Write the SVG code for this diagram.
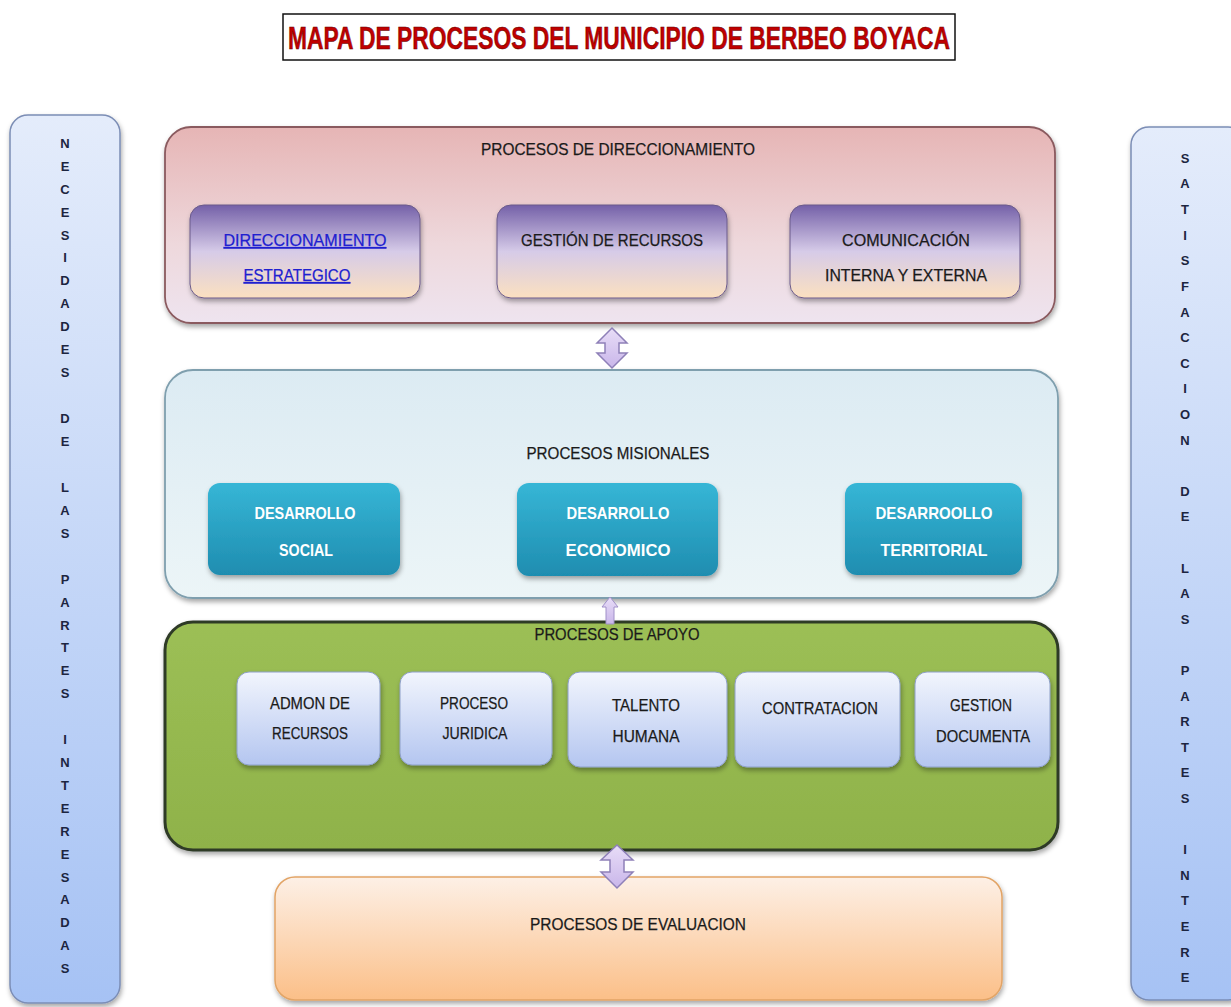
<svg xmlns="http://www.w3.org/2000/svg" width="1231" height="1007" viewBox="0 0 1231 1007">
<defs>
<style>
text{font-family:"Liberation Sans",Arial,sans-serif;}
.t{font-size:17px;fill:#1a1a1a;text-anchor:middle;stroke:#1a1a1a;stroke-width:0.25;}
.w{font-size:17px;fill:#ffffff;text-anchor:middle;font-weight:bold;}
.v{font-size:13px;fill:#1c2540;text-anchor:middle;font-weight:bold;}
</style>
<linearGradient id="gSide" x1="0" y1="0" x2="0" y2="1"><stop offset="0" stop-color="#e4ecfb"/><stop offset="1" stop-color="#a6c2f4"/></linearGradient>
<linearGradient id="gDir" x1="0" y1="0" x2="0" y2="1"><stop offset="0" stop-color="#e6b5b5"/><stop offset="0.6" stop-color="#eed8dc"/><stop offset="1" stop-color="#eee4ef"/></linearGradient>
<linearGradient id="gPur" x1="0" y1="0" x2="0" y2="1"><stop offset="0" stop-color="#7460a8"/><stop offset="0.5" stop-color="#d6cbe8"/><stop offset="1" stop-color="#fbe0c0"/></linearGradient>
<linearGradient id="gMis" x1="0" y1="0" x2="0" y2="1"><stop offset="0" stop-color="#dcebf3"/><stop offset="1" stop-color="#ecf5f7"/></linearGradient>
<linearGradient id="gTeal" x1="0" y1="0" x2="0" y2="1"><stop offset="0" stop-color="#36b6d6"/><stop offset="1" stop-color="#1f8db0"/></linearGradient>
<linearGradient id="gGreen" x1="0" y1="0" x2="0" y2="1"><stop offset="0" stop-color="#9cbf55"/><stop offset="1" stop-color="#8fb24a"/></linearGradient>
<linearGradient id="gBlue" x1="0" y1="0" x2="0" y2="1"><stop offset="0" stop-color="#f2f5fd"/><stop offset="1" stop-color="#b4c6f0"/></linearGradient>
<linearGradient id="gOr" x1="0" y1="0" x2="0" y2="1"><stop offset="0" stop-color="#fdf0e6"/><stop offset="1" stop-color="#fbbf88"/></linearGradient>
<linearGradient id="gArr" x1="0" y1="0" x2="0" y2="1"><stop offset="0" stop-color="#e8ddf7"/><stop offset="1" stop-color="#c9b6ea"/></linearGradient>
<filter id="sh" x="-10%" y="-10%" width="120%" height="130%"><feDropShadow dx="1" dy="3" stdDeviation="2.5" flood-color="#000" flood-opacity="0.35"/></filter>
</defs>
<rect width="1231" height="1007" fill="#ffffff"/>

<g id="title">
<rect x="283" y="14" width="672" height="46" fill="#ffffff" stroke="#111" stroke-width="1.5"/>
<text x="619" y="49" font-size="32" font-weight="bold" fill="#c00000" text-anchor="middle" textLength="662" lengthAdjust="spacingAndGlyphs" stroke="#5a0000" stroke-width="0.5">MAPA DE PROCESOS DEL MUNICIPIO DE BERBEO BOYACA</text>
</g>

<g id="necesidades">
<rect x="10" y="115" width="110" height="888" rx="18" fill="url(#gSide)" stroke="#7b8db5" stroke-width="1.5" filter="url(#sh)"/>
<text class="v" x="65" y="148">N</text>
<text class="v" x="65" y="171">E</text>
<text class="v" x="65" y="194">C</text>
<text class="v" x="65" y="217">E</text>
<text class="v" x="65" y="240">S</text>
<text class="v" x="65" y="262">I</text>
<text class="v" x="65" y="285">D</text>
<text class="v" x="65" y="308">A</text>
<text class="v" x="65" y="331">D</text>
<text class="v" x="65" y="354">E</text>
<text class="v" x="65" y="377">S</text>
<text class="v" x="65" y="423">D</text>
<text class="v" x="65" y="446">E</text>
<text class="v" x="65" y="492">L</text>
<text class="v" x="65" y="515">A</text>
<text class="v" x="65" y="538">S</text>
<text class="v" x="65" y="584">P</text>
<text class="v" x="65" y="607">A</text>
<text class="v" x="65" y="630">R</text>
<text class="v" x="65" y="652">T</text>
<text class="v" x="65" y="675">E</text>
<text class="v" x="65" y="698">S</text>
<text class="v" x="65" y="744">I</text>
<text class="v" x="65" y="767">N</text>
<text class="v" x="65" y="790">T</text>
<text class="v" x="65" y="813">E</text>
<text class="v" x="65" y="836">R</text>
<text class="v" x="65" y="859">E</text>
<text class="v" x="65" y="882">S</text>
<text class="v" x="65" y="904">A</text>
<text class="v" x="65" y="927">D</text>
<text class="v" x="65" y="950">A</text>
<text class="v" x="65" y="973">S</text>
</g>

<g id="satisfaccion">
<rect x="1131" y="127" width="115" height="873" rx="18" fill="url(#gSide)" stroke="#7b8db5" stroke-width="1.5" filter="url(#sh)"/>
<text class="v" x="1185" y="163">S</text>
<text class="v" x="1185" y="188">A</text>
<text class="v" x="1185" y="214">T</text>
<text class="v" x="1185" y="240">I</text>
<text class="v" x="1185" y="265">S</text>
<text class="v" x="1185" y="291">F</text>
<text class="v" x="1185" y="317">A</text>
<text class="v" x="1185" y="342">C</text>
<text class="v" x="1185" y="368">C</text>
<text class="v" x="1185" y="393">I</text>
<text class="v" x="1185" y="419">O</text>
<text class="v" x="1185" y="445">N</text>
<text class="v" x="1185" y="496">D</text>
<text class="v" x="1185" y="521">E</text>
<text class="v" x="1185" y="573">L</text>
<text class="v" x="1185" y="598">A</text>
<text class="v" x="1185" y="624">S</text>
<text class="v" x="1185" y="675">P</text>
<text class="v" x="1185" y="701">A</text>
<text class="v" x="1185" y="726">R</text>
<text class="v" x="1185" y="752">T</text>
<text class="v" x="1185" y="777">E</text>
<text class="v" x="1185" y="803">S</text>
<text class="v" x="1185" y="854">I</text>
<text class="v" x="1185" y="880">N</text>
<text class="v" x="1185" y="905">T</text>
<text class="v" x="1185" y="931">E</text>
<text class="v" x="1185" y="957">R</text>
<text class="v" x="1185" y="982">E</text>
</g>

<g id="direccionamiento">
<rect x="165" y="127" width="890" height="196" rx="26" fill="url(#gDir)" stroke="#8a5a5e" stroke-width="1.8" filter="url(#sh)"/>
<text class="t" x="618" y="155" textLength="274" lengthAdjust="spacingAndGlyphs">PROCESOS DE DIRECCIONAMIENTO</text>
</g>
<g id="dir-estrategico">
<rect x="190" y="205" width="230" height="93" rx="14" fill="url(#gPur)" stroke="#6a5a8a" stroke-width="1" filter="url(#sh)"/>
<text class="t" x="305" y="246" style="fill:#2020d0;stroke:#2020d0" text-decoration="underline" textLength="163" lengthAdjust="spacingAndGlyphs">DIRECCIONAMIENTO</text>
<text class="t" x="297" y="281" style="fill:#2020d0;stroke:#2020d0" text-decoration="underline" textLength="107" lengthAdjust="spacingAndGlyphs">ESTRATEGICO</text>
</g>
<g id="gestion-recursos">
<rect x="497" y="205" width="230" height="93" rx="14" fill="url(#gPur)" stroke="#6a5a8a" stroke-width="1" filter="url(#sh)"/>
<text class="t" x="612" y="246" textLength="182" lengthAdjust="spacingAndGlyphs">GESTIÓN DE RECURSOS</text>
</g>
<g id="comunicacion">
<rect x="790" y="205" width="230" height="93" rx="14" fill="url(#gPur)" stroke="#6a5a8a" stroke-width="1" filter="url(#sh)"/>
<text class="t" x="906" y="246" textLength="128" lengthAdjust="spacingAndGlyphs">COMUNICACIÓN</text>
<text class="t" x="906" y="281" textLength="162" lengthAdjust="spacingAndGlyphs">INTERNA Y EXTERNA</text>
</g>

<g id="misionales">
<rect x="165" y="370" width="893" height="228" rx="28" fill="url(#gMis)" stroke="#7f9fae" stroke-width="1.8" filter="url(#sh)"/>
<text class="t" x="618" y="459" textLength="183" lengthAdjust="spacingAndGlyphs">PROCESOS MISIONALES</text>
</g>
<g id="des-social">
<rect x="208" y="483" width="192" height="92" rx="12" fill="url(#gTeal)" filter="url(#sh)"/>
<text class="w" x="305" y="519" textLength="101" lengthAdjust="spacingAndGlyphs">DESARROLLO</text>
<text class="w" x="306" y="556" textLength="54" lengthAdjust="spacingAndGlyphs">SOCIAL</text>
</g>
<g id="des-economico">
<rect x="517" y="483" width="201" height="93" rx="12" fill="url(#gTeal)" filter="url(#sh)"/>
<text class="w" x="618" y="519" textLength="103" lengthAdjust="spacingAndGlyphs">DESARROLLO</text>
<text class="w" x="618" y="556" textLength="105" lengthAdjust="spacingAndGlyphs">ECONOMICO</text>
</g>
<g id="des-territorial">
<rect x="845" y="483" width="177" height="92" rx="12" fill="url(#gTeal)" filter="url(#sh)"/>
<text class="w" x="934" y="519" textLength="117" lengthAdjust="spacingAndGlyphs">DESARROOLLO</text>
<text class="w" x="934" y="556" textLength="107" lengthAdjust="spacingAndGlyphs">TERRITORIAL</text>
</g>

<g id="apoyo">
<rect x="165" y="622" width="893" height="228" rx="28" fill="url(#gGreen)" stroke="#2f3a28" stroke-width="3" filter="url(#sh)"/>
</g>
<g id="admon">
<rect x="237" y="672" width="143" height="93" rx="12" fill="url(#gBlue)" stroke="#8ea0c8" stroke-width="1" filter="url(#sh)"/>
<text class="t" x="310" y="709" textLength="80" lengthAdjust="spacingAndGlyphs">ADMON DE</text>
<text class="t" x="310" y="739" textLength="76" lengthAdjust="spacingAndGlyphs">RECURSOS</text>
</g>
<g id="juridica">
<rect x="400" y="672" width="152" height="93" rx="12" fill="url(#gBlue)" stroke="#8ea0c8" stroke-width="1" filter="url(#sh)"/>
<text class="t" x="474" y="709" textLength="68" lengthAdjust="spacingAndGlyphs">PROCESO</text>
<text class="t" x="475" y="739" textLength="65" lengthAdjust="spacingAndGlyphs">JURIDICA</text>
</g>
<g id="talento">
<rect x="568" y="672" width="159" height="95" rx="12" fill="url(#gBlue)" stroke="#8ea0c8" stroke-width="1" filter="url(#sh)"/>
<text class="t" x="646" y="711" textLength="68" lengthAdjust="spacingAndGlyphs">TALENTO</text>
<text class="t" x="646" y="742" textLength="67" lengthAdjust="spacingAndGlyphs">HUMANA</text>
</g>
<g id="contratacion">
<rect x="735" y="672" width="165" height="95" rx="12" fill="url(#gBlue)" stroke="#8ea0c8" stroke-width="1" filter="url(#sh)"/>
<text class="t" x="820" y="714" textLength="116" lengthAdjust="spacingAndGlyphs">CONTRATACION</text>
</g>
<g id="documenta">
<rect x="915" y="672" width="135" height="95" rx="12" fill="url(#gBlue)" stroke="#8ea0c8" stroke-width="1" filter="url(#sh)"/>
<text class="t" x="981" y="711" textLength="62" lengthAdjust="spacingAndGlyphs">GESTION</text>
<text class="t" x="983" y="742" textLength="94" lengthAdjust="spacingAndGlyphs">DOCUMENTA</text>
</g>

<g id="evaluacion">
<rect x="275" y="877" width="727" height="123" rx="20" fill="url(#gOr)" stroke="#e2a466" stroke-width="1.5" filter="url(#sh)"/>
<text class="t" x="638" y="930" textLength="216" lengthAdjust="spacingAndGlyphs">PROCESOS DE EVALUACION</text>
</g>

<g id="connectors">
<path d="M612,328 L627,343 L619,343 L619,353 L627,353 L612,368 L597,353 L605,353 L605,343 L597,343 Z" fill="url(#gArr)" stroke="#8e80b8" stroke-width="1.5"/>
<path d="M610,597 L618,607 L614,607 L614,624 L606,624 L606,607 L602,607 Z" fill="url(#gArr)" stroke="#a090c8" stroke-width="1"/>
<path d="M617,845 L633,860 L624,860 L624,872 L633,872 L617,888 L601,872 L610,872 L610,860 L601,860 Z" fill="url(#gArr)" stroke="#8e80b8" stroke-width="1.5"/>
</g>
<text class="t" x="617" y="640" textLength="165" lengthAdjust="spacingAndGlyphs">PROCESOS DE APOYO</text>
</svg>
